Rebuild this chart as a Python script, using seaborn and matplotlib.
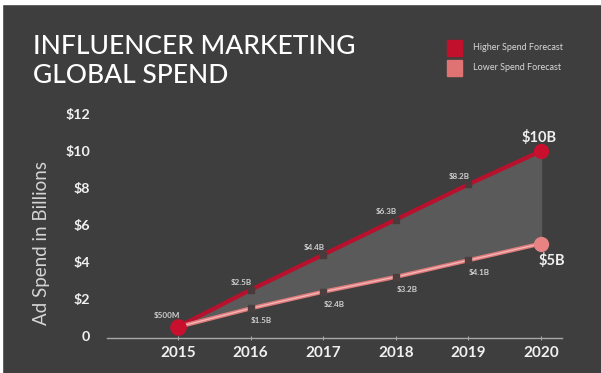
import matplotlib
matplotlib.use("Agg")
import matplotlib.pyplot as plt
import seaborn as sns
import pandas as pd
from matplotlib.patches import Rectangle

# data
years = [2015, 2016, 2017, 2018, 2019, 2020]
higher = [0.5, 2.5, 4.4, 6.3, 8.2, 10.0]
lower = [0.5, 1.5, 2.4, 3.2, 4.1, 5.0]
higher_labels = ["$500M", "$2.5B", "$4.4B", "$6.3B", "$8.2B", "$10B"]
lower_labels = ["", "$1.5B", "$2.4B", "$3.2B", "$4.1B", "$5B"]
yticks = [0, 2, 4, 6, 8, 10, 12]
ytick_labels = ["0", "$2", "$4", "$6", "$8", "$10", "$12"]

df = pd.DataFrame({"year": years, "higher": higher, "lower": lower})

bg = "#3e3e3e"
red = "#b8112e"
pink = "#e07b7c"

sns.set_theme(style="dark", rc={"axes.facecolor": bg, "figure.facecolor": bg})
plt.rcParams["font.family"] = ["Lato", "DejaVu Sans"]

fig = plt.figure(figsize=(6.01, 3.73), dpi=100)
ax = fig.add_axes([107 / 601, 35 / 373, 455 / 601, 238 / 373])

# shaded gap between the forecasts
ax.fill_between(df["year"], df["lower"], df["higher"], color="#5a5a5a", zorder=1)

sns.lineplot(data=df, x="year", y="higher", ax=ax, color=red, linewidth=3.0, zorder=3)
sns.lineplot(data=df, x="year", y="lower", ax=ax, color=pink, linewidth=3.0, zorder=3)
sns.lineplot(data=df, x="year", y="lower", ax=ax, color="#f3b9b9", linewidth=0.9, zorder=3)

# small dark markers on the middle points
mid = df.iloc[1:5]
ax.scatter(mid["year"], mid["higher"], s=14, marker="s", color="#4a3a3c", zorder=4)
ax.scatter(mid["year"], mid["lower"], s=14, marker="s", color="#4a3e3e", zorder=4)

# end points
ax.scatter([years[0]], [higher[0]], s=120, color="#c8102e", zorder=5)
ax.scatter([years[-1]], [higher[-1]], s=100, color="#c8102e", zorder=5)
ax.scatter([years[-1]], [lower[-1]], s=100, color="#e88283", zorder=5)

# value labels
for i, (yr, v, lab) in enumerate(zip(years, higher, higher_labels)):
    if i == 0:
        ax.annotate(lab, (yr, v), xytext=(-8, 8), textcoords="offset points",
                    ha="center", va="center", fontsize=5.8, color="#cfcfcf",
                    fontweight="bold")
    elif i == len(years) - 1:
        ax.annotate(lab, (yr, v), xytext=(-1, 10), textcoords="offset points",
                    ha="center", va="center", fontsize=10.5, color="#f0f0f0",
                    fontweight="bold")
    else:
        ax.annotate(lab, (yr, v), xytext=(-6.5, 5.5), textcoords="offset points",
                    ha="center", va="center", fontsize=5.8, color="#cfcfcf",
                    fontweight="bold")
for i, (yr, v, lab) in enumerate(zip(years, lower, lower_labels)):
    if not lab:
        continue
    if i == len(years) - 1:
        ax.annotate(lab, (yr, v), xytext=(8, -12.5), textcoords="offset points",
                    ha="center", va="center", fontsize=10.5, color="#f0f0f0",
                    fontweight="bold")
    else:
        ax.annotate(lab, (yr, v), xytext=(8, -9), textcoords="offset points",
                    ha="center", va="center", fontsize=5.8, color="#cfcfcf",
                    fontweight="bold")

ax.set_xlim(2015 - 71 / 72.6, 2020 + 21 / 72.6)
ax.set_ylim(-0.1, 12.76)
ax.set_xticks(years)
ax.set_xticklabels([str(y) for y in years], fontsize=11, fontweight="bold", color="#f0f0f0")
ax.set_yticks(yticks)
ax.set_yticklabels(ytick_labels, fontsize=10.3, fontweight="bold", color="#f0f0f0")
ax.tick_params(axis="y", length=0, pad=12)
ax.tick_params(axis="x", length=3, width=0.8, color="#a8a8a8", direction="inout", pad=4, bottom=True)
for side in ["left", "right", "top"]:
    ax.spines[side].set_visible(False)
ax.spines["bottom"].set_color("#a8a8a8")
ax.spines["bottom"].set_linewidth(1.0)
ax.grid(False)
ax.set_xlabel("")
ax.set_ylabel("Ad Spend in Billions", fontsize=13.5, color="#d4d4d4", fontweight="normal")
ax.yaxis.set_label_coords(-0.125, 0.40)

# title
fig.text(33 / 601, 1 - 34 / 373, "INFLUENCER MARKETING\nGLOBAL SPEND", ha="left", va="top",
         fontsize=19, color="white", linespacing=1.2, fontweight="medium")

# legend
fig.patches.append(Rectangle((447 / 601, 1 - 56 / 373), 15 / 601, 16 / 373,
                             transform=fig.transFigure, color="#c0102c"))
fig.patches.append(Rectangle((447 / 601, 1 - 76 / 373), 15 / 601, 16 / 373,
                             transform=fig.transFigure, color="#df7272"))
fig.text(473 / 601, 1 - 47 / 373, "Higher Spend Forecast", ha="left", va="center",
         fontsize=6.5, color="#d8d8d8")
fig.text(473 / 601, 1 - 68 / 373, "Lower Spend Forecast", ha="left", va="center",
         fontsize=6.5, color="#d8d8d8")

# white borders of the original image
fig.patches.append(Rectangle((0, 1 - 4 / 373), 1, 4 / 373, transform=fig.transFigure, color="white"))
fig.patches.append(Rectangle((0, 0), 2 / 601, 1, transform=fig.transFigure, color="white"))

fig.savefig("out.png", dpi=100, facecolor=bg)
